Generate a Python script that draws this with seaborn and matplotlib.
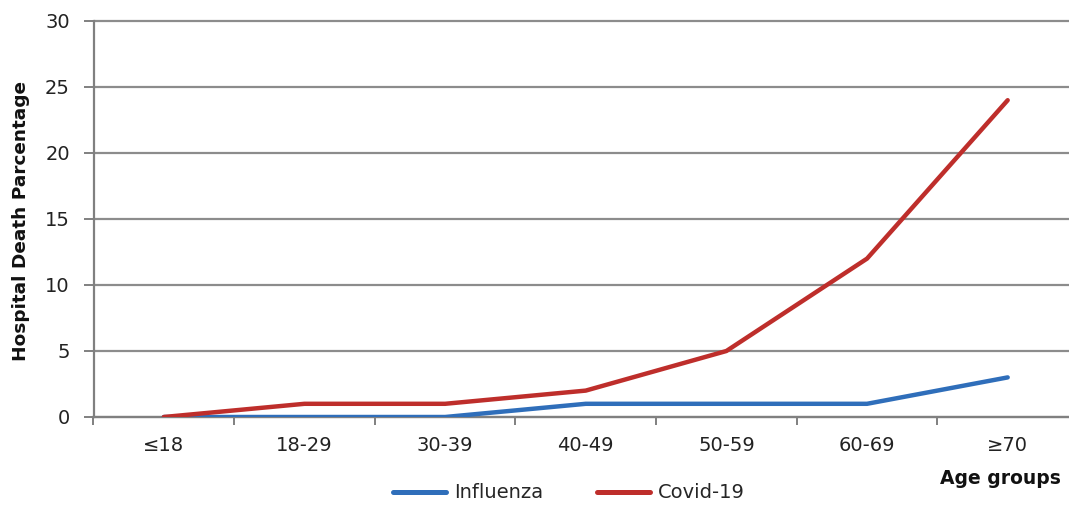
import matplotlib
matplotlib.use("Agg")
import matplotlib.pyplot as plt
import seaborn as sns
import pandas as pd
import numpy as np
from matplotlib.ticker import FixedLocator
from matplotlib.lines import Line2D

age_groups = ["≤18", "18-29", "30-39", "40-49", "50-59", "60-69", "≥70"]
influenza = [0, 0, 0, 1, 1, 1, 3]
covid = [0, 1, 1, 2, 5, 12, 24]
y_ticks = [0, 5, 10, 15, 20, 25, 30]

df = pd.concat([
    pd.DataFrame({"age": age_groups, "value": influenza, "series": "Influenza"}),
    pd.DataFrame({"age": age_groups, "value": covid, "series": "Covid-19"}),
])

sns.set_style("white")
plt.rcParams['font.family'] = ['DejaVu Sans']

fig = plt.figure(figsize=(10.69, 5.08), dpi=100)
W, H = 1069, 508
left, right, top, bottom = 93.5, 1078, 21, 417
ax = fig.add_axes([left / W, 1 - bottom / H, (right - left) / W, (bottom - top) / H])

palette = {"Influenza": "#2F6EBA", "Covid-19": "#BE2E2B"}
sns.lineplot(data=df, x="age", y="value", hue="series", palette=palette,
             linewidth=3.2, ax=ax, sort=False, legend=False, zorder=3)

ax.set_xlim(-0.5, len(age_groups) - 0.5)
ax.set_ylim(0, 30)
ax.set_yticks(y_ticks)
ax.yaxis.grid(True, color="#8C8C8C", linewidth=1.6)
ax.set_axisbelow(True)

ax.set_xticks(range(len(age_groups)))
ax.set_xticklabels(age_groups)
ax.xaxis.set_minor_locator(FixedLocator(np.arange(-0.5, len(age_groups), 1.0)))
ax.tick_params(axis="x", which="major", bottom=True, length=0, pad=14, labelsize=14, labelcolor="#222222")
ax.tick_params(axis="x", which="minor", bottom=True, length=6, width=1.4, color="#808080", direction="out")
ax.tick_params(axis="y", which="major", left=True, length=7, width=1.4, color="#808080", direction="out",
               pad=10, labelsize=14, labelcolor="#222222")

for s in ["top", "right"]:
    ax.spines[s].set_visible(False)
for s in ["left", "bottom"]:
    ax.spines[s].set_color("#808080")
    ax.spines[s].set_linewidth(1.6)

ax.set_xlabel("")
ax.set_ylabel("")
fig.text(21 / W, 1 - 221 / H, "Hospital Death Parcentage", fontsize=13.3, fontweight="bold",
         rotation=90, ha="center", va="center", color="#111111")
fig.text(1000 / W, 1 - 478 / H, "Age groups", fontsize=13.5, fontweight="bold",
         ha="center", va="center", color="#111111")

handles = [Line2D([], [], color=palette["Influenza"], linewidth=3.6),
           Line2D([], [], color=palette["Covid-19"], linewidth=3.6)]
fig.legend(handles, ["Influenza", "Covid-19"], loc="center", bbox_to_anchor=(569 / W, 1 - 493 / H),
           ncol=2, frameon=False, fontsize=14, handlelength=2.7, columnspacing=2.8,
           handletextpad=0.4)

fig.canvas.draw()
for gl in ax.get_ygridlines():
    gl.set_clip_on(False)

fig.savefig("out.png", dpi=100)
